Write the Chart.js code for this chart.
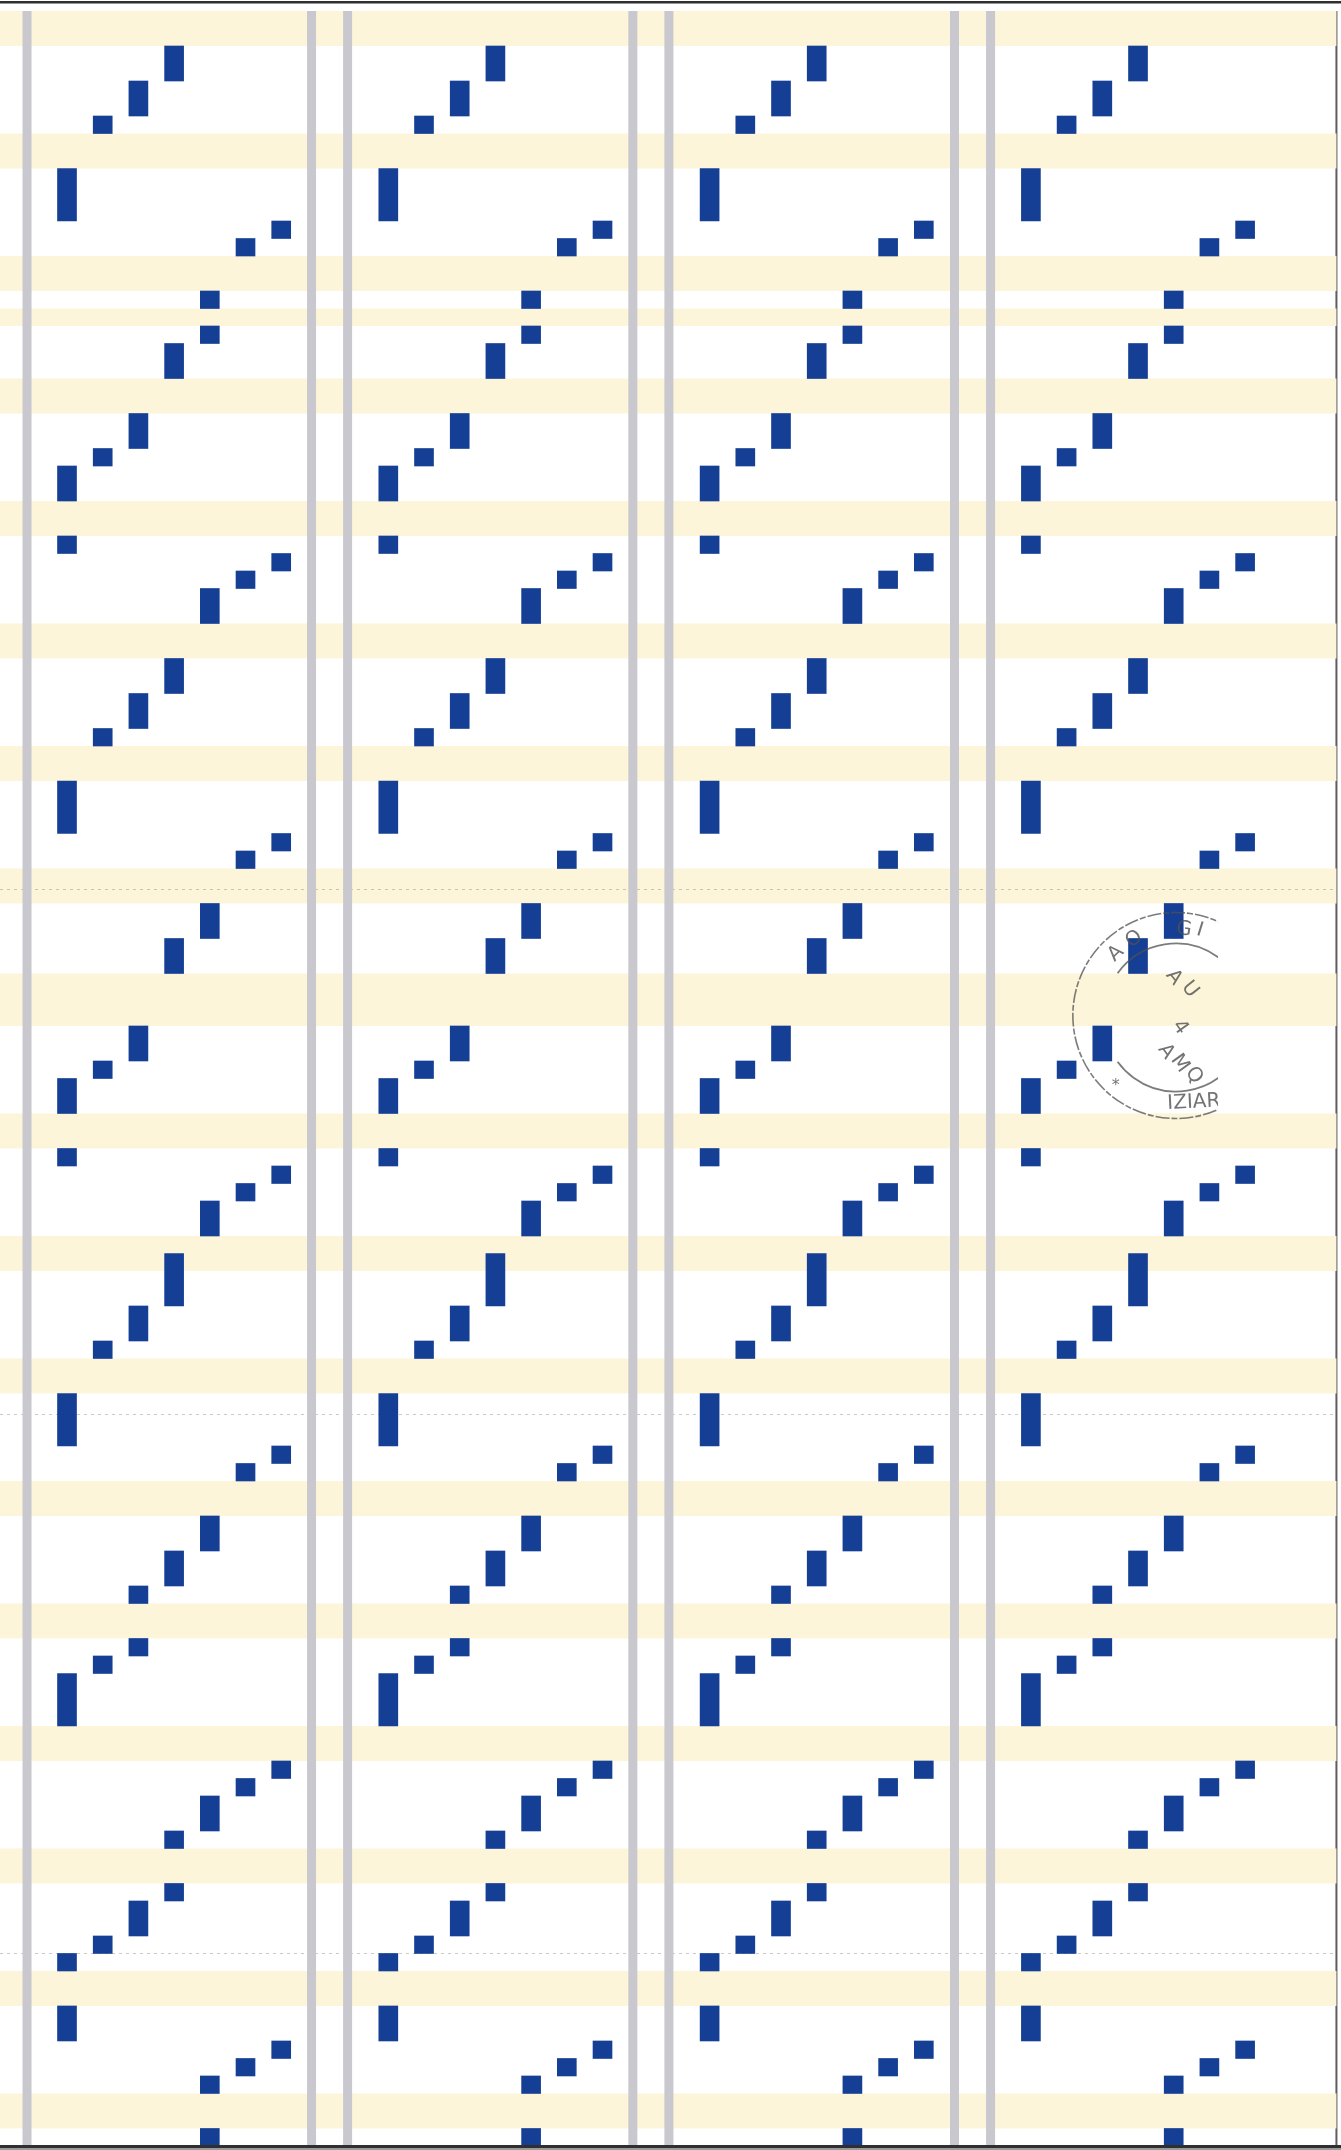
<!DOCTYPE html>
<html>
<head>
<meta charset="utf-8">
<title>Punched strip</title>
<script src="https://cdn.jsdelivr.net/npm/chart.js@4.4.1/dist/chart.umd.min.js"></script>
<style>
  html, body { margin: 0; padding: 0; background: #ffffff; }
  #wrap { width: 1341px; height: 2150px; position: relative; }
</style>
</head>
<body>
<div id="wrap"><canvas id="strip"></canvas></div>
<script>
// one strip, read top to bottom: lane (0 = leftmost), start row, end row
const noteLane  = [3, 2, 1, 0, 6, 5, 4, 4, 3, 2, 1, 0, 0, 6, 5, 4, 3, 2, 1, 0, 6, 5, 4, 3, 2, 1, 0, 0, 6, 5, 4, 3, 2, 1, 0, 6, 5, 4, 3, 2, 2, 1, 0, 6, 5, 4, 3, 3, 2, 1, 0, 0, 6, 5, 4, 4];
const noteStart = [0, 2, 4, 7, 10, 11, 14, 16, 17, 21, 23, 24, 28, 29, 30, 31, 35, 37, 39, 42, 45, 46, 49, 51, 56, 58, 59, 63, 64, 65, 66, 69, 72, 74, 77, 80, 81, 84, 86, 88, 91, 92, 93, 98, 99, 100, 102, 105, 106, 108, 109, 112, 114, 115, 116, 119];
const noteEnd   = [2, 4, 5, 10, 11, 12, 15, 17, 19, 23, 24, 26, 29, 30, 31, 33, 37, 39, 40, 45, 46, 47, 51, 53, 58, 59, 61, 64, 65, 66, 68, 72, 74, 75, 80, 81, 82, 86, 88, 89, 92, 93, 96, 99, 100, 102, 103, 106, 108, 109, 110, 114, 115, 116, 117, 121];

// the same strip is printed four times side by side
const stripColumns = [0, 1, 2, 3];
const lanesPerColumn = 9;

// pale yellow bands (rows)
const bandStart = [-2, 5, 12, 15, 19, 26, 33, 40, 47, 53, 61, 68, 75, 82, 89, 96, 103, 110, 117];
const bandEnd   = [0, 7, 14, 16, 21, 28, 35, 42, 49, 56, 63, 70, 77, 84, 91, 98, 105, 112, 119];

// grey rails between strips (lane units)
const rails = [-1.12, 6.85, 7.86, 15.85, 16.86, 24.86, 25.87];
const pageEdge = 35.53;

// faint dotted scan lines (rows)
const scanLines = [48.2, 78.2, 109];

const notes = [];
stripColumns.forEach((col) => {
  noteLane.forEach((lane, i) => {
    notes.push({ x: col * lanesPerColumn + lane, y: [noteStart[i], noteEnd[i]] });
  });
});

const paperPlugin = {
  id: "paper",
  beforeDatasetsDraw(chart) {
    const { ctx, chartArea: a, scales: { x, y } } = chart;
    const right = x.getPixelForValue(pageEdge);
    const top = y.getPixelForValue(-2);
    const bottom = a.bottom - 5;
    ctx.save();

    // right edge of the sheet
    ctx.fillStyle = "#5e5e5e";
    ctx.fillRect(right, top, 2, bottom - top);

    // bands
    ctx.fillStyle = "#fcf5d9";
    bandStart.forEach((s, i) => {
      const y0 = y.getPixelForValue(s);
      const y1 = y.getPixelForValue(bandEnd[i]);
      ctx.fillRect(a.left, y0, right - a.left + 1, y1 - y0);
    });

    // scan lines
    ctx.strokeStyle = "rgba(140,140,140,0.45)";
    ctx.lineWidth = 1;
    ctx.setLineDash([3, 4]);
    scanLines.forEach((r) => {
      const py = Math.round(y.getPixelForValue(r)) + 0.5;
      ctx.beginPath();
      ctx.moveTo(a.left, py);
      ctx.lineTo(right, py);
      ctx.stroke();
    });
    ctx.setLineDash([]);

    // rails
    ctx.fillStyle = "#c8c8ce";
    rails.forEach((v) => {
      const px = x.getPixelForValue(v);
      ctx.fillRect(px - 4.5, top, 9, bottom - top);
    });
    ctx.restore();
  },
  afterDatasetsDraw(chart) {
    const { ctx, chartArea: a, scales: { x, y } } = chart;
    ctx.save();

    // rubber stamp, cut off on the right
    const cx = x.getPixelForValue(31.06);
    const cy = y.getPixelForValue(55.4);
    const clipX = x.getPixelForValue(32.24);
    ctx.beginPath();
    ctx.rect(a.left, a.top, clipX - a.left, a.bottom - a.top);
    ctx.clip();
    ctx.strokeStyle = "rgba(80,80,80,0.75)";
    ctx.fillStyle = "rgba(80,80,80,0.8)";
    ctx.lineWidth = 1.6;
    ctx.setLineDash([14, 2, 6, 2]);
    ctx.beginPath();
    ctx.arc(cx, cy, 103, 0, Math.PI * 2);
    ctx.stroke();
    ctx.setLineDash([]);
    ctx.lineWidth = 1.8;
    ctx.beginPath();
    ctx.arc(cx, cy, 72, Math.PI * 1.2, Math.PI * 1.8);
    ctx.stroke();
    ctx.beginPath();
    ctx.arc(cx, cy + 4, 72, Math.PI * 0.2, Math.PI * 0.8);
    ctx.stroke();

    ctx.font = '20px "DejaVu Sans"';
    ctx.textAlign = "center";
    ctx.textBaseline = "middle";
    const put = (txt, dx, dy, rot) => {
      ctx.save();
      ctx.translate(cx + dx, cy + dy);
      ctx.rotate(rot);
      ctx.fillText(txt, 0, 0);
      ctx.restore();
    };
    put("G", 8, -86, 0.15);
    put("I", 24, -85, 0.3);
    put("A", -60, -62, -0.75);
    put("O", -42, -76, -0.5);
    put("A", -2, -38, 0.9);
    put("U", 14, -26, 0.9);
    put("4", 4, 12, 0.95);
    put("A", -10, 36, 0.95);
    put("M", 4, 48, 0.95);
    put("Q", 18, 60, 0.95);
    put("IZIAR", 18, 87, -0.05);
    ctx.font = '16px "DejaVu Sans"';
    put("*", -60, 70, 0);
    ctx.restore();

    // top and bottom frame of the scan
    ctx.save();
    ctx.fillStyle = "#2f2f2f";
    ctx.fillRect(a.left, a.top + 1, a.right - a.left, 2.5);
    ctx.fillRect(a.left, a.bottom - 5, a.right - a.left, 3);
    ctx.fillStyle = "#9a9a9a";
    ctx.fillRect(a.left, a.bottom - 2, a.right - a.left, 2);
    ctx.restore();
  },
};

new Chart(document.getElementById("strip").getContext("2d"), {
  type: "bar",
  data: {
    datasets: [
      {
        label: "holes",
        data: notes,
        backgroundColor: "#153f94",
        borderWidth: 0,
        borderSkipped: false,
        barThickness: 19,
      },
    ],
  },
  options: {
    responsive: true,
    maintainAspectRatio: false,
    animation: false,
    events: [],
    layout: { padding: 0 },
    plugins: {
      legend: { display: false },
      tooltip: { enabled: false },
    },
    scales: {
      x: { type: "linear", min: -1.877, max: 35.686, offset: false, display: false },
      y: { type: "linear", min: -2.629, max: 120.23, reverse: true, display: false },
    },
  },
  plugins: [paperPlugin],
});
</script>
</body>
</html>
